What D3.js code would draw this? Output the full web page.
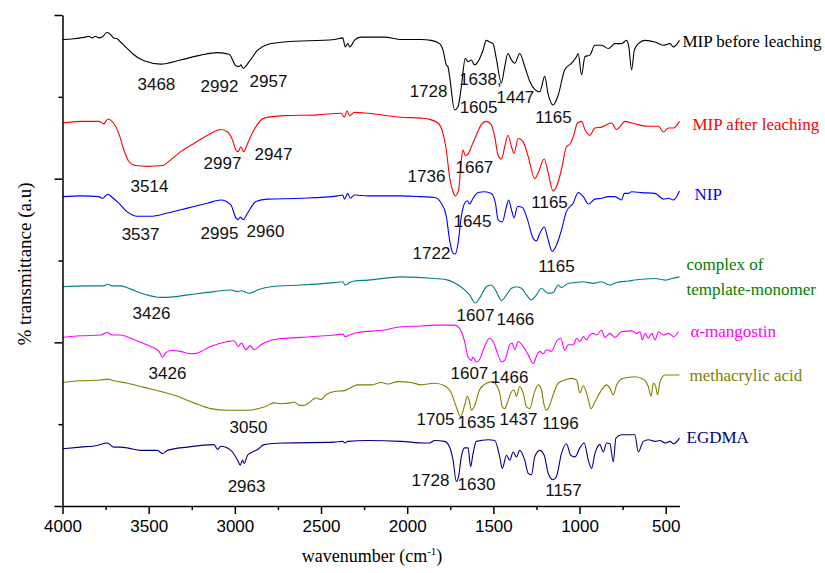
<!DOCTYPE html>
<html lang="en">
<head>
  <meta charset="UTF-8">
  <title>FTIR spectra</title>
  <script src="https://d3js.org/d3.v7.min.js"></script>
  <style>
    body { margin: 0; background: #fff; }
  </style>
</head>
<body>
  <script>
    // 1. Data: [wavenumber, offset transmittance]
    const mipBefore = [
      [3998,5.70],[3936,5.71],[3895,5.72],[3866,5.73],[3847,5.74],[3828,5.72],[3808,5.74],[3789,5.72],[3770,5.73],
      [3741,5.79],[3721,5.76],[3702,5.72],[3683,5.71],[3663,5.67],[3644,5.63],[3624,5.59],[3595,5.53],[3527,5.44],
      [3430,5.40],[3314,5.45],[3198,5.51],[3101,5.54],[3033,5.52],[2994,5.38],[2975,5.37],[2965,5.39],[2952,5.35],
      [2917,5.43],[2868,5.57],[2810,5.64],[2713,5.67],[2423,5.70],[2374,5.72],[2359,5.61],[2345,5.65],[2332,5.61],
      [2307,5.69],[2268,5.73],[2132,5.73],[2035,5.70],[1919,5.70],[1861,5.69],[1812,5.65],[1792,5.57],[1773,5.39],
      [1764,5.37],[1754,5.25],[1725,4.84],[1705,4.88],[1686,5.12],[1663,5.47],[1647,5.43],[1628,5.45],[1609,5.39],
      [1589,5.43],[1560,5.57],[1541,5.69],[1522,5.67],[1502,5.65],[1483,5.47],[1454,5.17],[1434,5.37],[1415,5.53],
      [1395,5.45],[1376,5.41],[1347,5.53],[1318,5.37],[1289,5.19],[1260,5.09],[1231,5.06],[1202,5.25],[1183,5.04],
      [1153,4.90],[1124,5.02],[1086,5.33],[1047,5.41],[1018,5.49],[1008,5.53],[988,5.27],[969,5.49],[940,5.51],
      [911,5.63],[872,5.63],[833,5.59],[795,5.65],[756,5.65],[727,5.69],[714,5.61],[698,5.33],[682,5.57],[659,5.65],
      [620,5.69],[562,5.67],[514,5.63],[475,5.65],[456,5.61],[420,5.69]
    ];
    const mipAfter = [
      [3998,4.68],[3895,4.70],[3789,4.70],[3760,4.67],[3737,4.73],[3673,4.55],[3644,4.35],[3615,4.21],[3576,4.16],
      [3508,4.15],[3420,4.16],[3372,4.23],[3314,4.33],[3237,4.43],[3159,4.53],[3081,4.60],[3042,4.57],[3013,4.47],
      [2994,4.35],[2981,4.33],[2965,4.39],[2949,4.33],[2926,4.43],[2888,4.60],[2830,4.74],[2713,4.77],[2519,4.78],
      [2384,4.80],[2364,4.75],[2349,4.83],[2335,4.77],[2306,4.81],[2228,4.80],[2035,4.75],[1919,4.74],[1880,4.73],
      [1821,4.68],[1792,4.55],[1773,4.35],[1754,4.02],[1734,3.84],[1721,3.79],[1702,3.86],[1686,4.23],[1676,4.35],
      [1663,4.28],[1647,4.30],[1628,4.39],[1599,4.53],[1570,4.66],[1541,4.70],[1512,4.66],[1492,4.51],[1473,4.29],
      [1453,4.24],[1434,4.39],[1415,4.53],[1395,4.39],[1380,4.31],[1356,4.49],[1327,4.45],[1298,4.27],[1260,4.00],
      [1240,4.07],[1205,4.24],[1182,4.07],[1153,3.85],[1134,3.90],[1105,4.11],[1076,4.39],[1056,4.42],[1037,4.51],
      [1012,4.68],[988,4.70],[969,4.60],[940,4.53],[911,4.62],[872,4.63],[843,4.66],[814,4.68],[785,4.60],
      [756,4.66],[737,4.70],[698,4.68],[659,4.66],[601,4.64],[542,4.64],[513,4.57],[484,4.62],[455,4.62],[420,4.70]
    ];
    const nip = [
      [3998,3.78],[3895,3.79],[3789,3.78],[3769,3.76],[3737,3.81],[3711,3.77],[3673,3.70],[3628,3.60],[3566,3.54],
      [3488,3.54],[3391,3.58],[3275,3.64],[3159,3.70],[3081,3.74],[3023,3.68],[2994,3.52],[2981,3.50],[2969,3.53],
      [2952,3.50],[2926,3.58],[2878,3.72],[2810,3.75],[2616,3.76],[2403,3.79],[2374,3.80],[2364,3.75],[2345,3.82],
      [2330,3.76],[2306,3.80],[2228,3.79],[2035,3.79],[1919,3.78],[1841,3.77],[1802,3.70],[1773,3.54],[1754,3.25],
      [1734,3.09],[1721,3.08],[1705,3.21],[1686,3.54],[1667,3.70],[1651,3.73],[1638,3.69],[1618,3.76],[1589,3.83],
      [1551,3.84],[1512,3.82],[1488,3.70],[1473,3.50],[1449,3.47],[1424,3.66],[1411,3.74],[1395,3.62],[1380,3.52],
      [1360,3.66],[1333,3.65],[1302,3.50],[1269,3.27],[1250,3.24],[1231,3.33],[1205,3.41],[1182,3.25],[1159,3.11],
      [1134,3.19],[1105,3.37],[1076,3.60],[1037,3.70],[1008,3.83],[978,3.78],[949,3.69],[911,3.75],[872,3.76],
      [833,3.78],[795,3.78],[756,3.74],[740,3.82],[717,3.82],[698,3.84],[640,3.83],[562,3.82],[513,3.75],
      [484,3.76],[455,3.74],[420,3.85]
    ];
    const complexTM = [
      [3998,2.68],[3856,2.69],[3760,2.69],[3740,2.71],[3711,2.69],[3663,2.69],[3605,2.65],[3527,2.59],[3430,2.55],
      [3391,2.55],[3275,2.58],[3120,2.62],[3023,2.64],[2984,2.62],[2965,2.63],[2917,2.60],[2868,2.64],[2791,2.68],
      [2616,2.70],[2423,2.73],[2374,2.74],[2360,2.70],[2335,2.73],[2306,2.75],[2228,2.76],[2035,2.80],[1841,2.78],
      [1763,2.76],[1705,2.70],[1667,2.64],[1638,2.58],[1605,2.48],[1580,2.54],[1541,2.68],[1512,2.70],[1483,2.62],
      [1453,2.51],[1424,2.58],[1395,2.66],[1366,2.68],[1337,2.66],[1308,2.58],[1279,2.52],[1250,2.58],[1221,2.66],
      [1182,2.60],[1153,2.61],[1124,2.70],[1105,2.67],[1066,2.72],[1027,2.73],[978,2.74],[920,2.72],[872,2.74],
      [824,2.70],[785,2.73],[717,2.75],[640,2.77],[562,2.78],[504,2.76],[465,2.78],[420,2.80]
    ];
    const mangostin = [
      [3998,2.06],[3895,2.08],[3779,2.09],[3740,2.12],[3711,2.09],[3663,2.09],[3605,2.05],[3547,2.00],[3488,1.95],
      [3440,1.89],[3420,1.82],[3401,1.87],[3372,1.90],[3314,1.89],[3256,1.86],[3217,1.87],[3140,1.95],[3042,2.01],
      [3004,2.02],[2981,1.95],[2961,1.99],[2936,1.91],[2911,1.96],[2888,1.91],[2849,1.97],[2810,2.01],[2752,2.04],
      [2616,2.06],[2423,2.09],[2374,2.10],[2360,2.07],[2335,2.09],[2287,2.12],[2132,2.15],[2035,2.19],[1919,2.20],
      [1841,2.21],[1725,2.21],[1696,2.17],[1667,2.01],[1647,1.82],[1628,1.78],[1618,1.82],[1599,1.76],[1580,1.79],
      [1551,1.95],[1522,2.05],[1502,2.01],[1473,1.85],[1453,1.76],[1434,1.78],[1405,1.97],[1391,1.99],[1376,1.91],
      [1356,2.01],[1327,1.95],[1298,1.85],[1269,1.74],[1250,1.83],[1231,1.89],[1211,1.86],[1192,1.91],[1163,1.89],
      [1134,2.01],[1109,2.05],[1086,1.90],[1066,1.97],[1037,1.97],[1017,2.05],[998,2.01],[978,2.07],[959,2.03],
      [940,2.09],[920,2.11],[901,2.09],[872,2.15],[853,2.06],[824,2.11],[795,2.06],[756,2.13],[698,2.14],[669,2.11],
      [649,2.13],[635,2.03],[620,2.11],[601,2.05],[581,2.11],[562,2.03],[542,2.13],[513,2.09],[484,2.11],[455,2.07],
      [426,2.13]
    ];
    const methacrylic = [
      [3998,1.51],[3895,1.53],[3779,1.54],[3740,1.55],[3702,1.53],[3624,1.50],[3527,1.45],[3430,1.40],[3333,1.34],
      [3237,1.26],[3140,1.19],[3042,1.17],[2926,1.17],[2830,1.21],[2771,1.26],[2733,1.25],[2674,1.26],[2655,1.27],
      [2626,1.23],[2597,1.23],[2548,1.30],[2529,1.32],[2500,1.30],[2471,1.36],[2423,1.40],[2364,1.41],[2287,1.48],
      [2209,1.48],[2151,1.51],[2112,1.49],[2054,1.52],[1977,1.51],[1919,1.48],[1841,1.50],[1783,1.47],[1744,1.38],
      [1715,1.21],[1690,1.09],[1667,1.23],[1651,1.34],[1638,1.27],[1628,1.17],[1612,1.21],[1580,1.42],[1541,1.50],
      [1502,1.52],[1483,1.48],[1463,1.38],[1448,1.21],[1434,1.19],[1419,1.26],[1399,1.38],[1380,1.42],[1366,1.34],
      [1347,1.46],[1327,1.38],[1308,1.21],[1289,1.19],[1263,1.38],[1240,1.48],[1221,1.42],[1205,1.23],[1192,1.17],
      [1173,1.23],[1153,1.36],[1124,1.50],[1086,1.54],[1046,1.56],[1017,1.54],[998,1.38],[978,1.47],[949,1.30],
      [934,1.19],[911,1.27],[872,1.42],[843,1.48],[824,1.44],[804,1.36],[785,1.48],[746,1.56],[679,1.58],[630,1.55],
      [601,1.46],[585,1.34],[572,1.50],[558,1.46],[547,1.36],[533,1.52],[504,1.60],[446,1.60],[420,1.60]
    ];
    const egdma = [
      [3998,0.70],[3895,0.72],[3798,0.74],[3740,0.77],[3702,0.72],[3663,0.72],[3624,0.71],[3547,0.68],[3449,0.68],
      [3420,0.64],[3391,0.68],[3275,0.72],[3120,0.75],[3101,0.69],[3081,0.73],[3023,0.68],[2984,0.56],[2969,0.50],
      [2955,0.56],[2946,0.52],[2926,0.62],[2907,0.65],[2868,0.69],[2830,0.75],[2713,0.77],[2423,0.78],[2374,0.79],
      [2360,0.77],[2345,0.79],[2228,0.80],[2035,0.79],[1899,0.77],[1870,0.77],[1841,0.80],[1783,0.79],[1754,0.72],
      [1734,0.56],[1715,0.30],[1702,0.36],[1686,0.60],[1667,0.71],[1647,0.71],[1632,0.48],[1618,0.64],[1599,0.79],
      [1531,0.81],[1492,0.80],[1463,0.60],[1448,0.46],[1424,0.62],[1405,0.56],[1385,0.66],[1366,0.60],[1347,0.68],
      [1318,0.56],[1298,0.40],[1279,0.38],[1260,0.60],[1231,0.68],[1205,0.62],[1182,0.40],[1153,0.32],[1134,0.36],
      [1105,0.64],[1076,0.76],[1051,0.62],[1027,0.60],[998,0.71],[973,0.77],[949,0.56],[930,0.46],[911,0.64],
      [882,0.75],[862,0.66],[843,0.77],[824,0.76],[804,0.54],[789,0.83],[756,0.87],[679,0.87],[659,0.66],[630,0.79],
      [601,0.81],[562,0.79],[533,0.80],[504,0.77],[475,0.79],[455,0.76],[420,0.83]
    ];

    const seriesNames = ["MIP before leaching", "MIP after leaching", "NIP",
                         "complex of|template-monomer", "α-mangostin", "methacrylic acid", "EGDMA"];
    const seriesData = [mipBefore, mipAfter, nip, complexTM, mangostin, methacrylic, egdma];
    const nameLevels = [5.61, 4.60, 3.74, 2.88, 2.07, 1.53, 0.77];

    // peak annotations: [text, wavenumber, level]
    const peakLabels = [
      ["3468",3455,5.16],["2992",3089,5.13],["2957",2805,5.19],["1728",1876,5.07],["1638,",1575,5.22],
      ["1605",1586,4.88],["1447",1372,5.00],["1165",1151,4.75],
      ["3514",3495,3.91],["2997",3072,4.19],["2947",2776,4.30],["1736",1888,4.04],["1667",1610,4.14],["1165",1174,3.72],
      ["3537",3547,3.32],["2995",3089,3.34],["2960",2822,3.36],["1645",1621,3.48],["1722",1859,3.09],["1165",1134,2.93],
      ["3426",3484,2.36],["1607",1604,2.33],["1466",1372,2.29],
      ["3426",3391,1.63],["1607",1639,1.63],["1466",1406,1.58],
      ["3050",2921,0.97],["1705",1836,1.06],["1635",1598,1.03],["1437",1354,1.06],["1196",1111,1.01],
      ["2963",2932,0.24],["1728",1865,0.32],["1630",1598,0.27],["1157",1093,0.20]
    ];

    const xMajor = [4000, 3500, 3000, 2500, 2000, 1500, 1000, 500];
    const xMinor = [3750, 3250, 2750, 2250, 1750, 1250, 750];
    const yMajor = [0, 2, 4, 6];
    const yMinor = [1, 3, 5];

    // 2. Styles
    const lineColors = ["#000000", "#ff0000", "#0000ff", "#008080", "#ff00ff", "#808000", "#000080"];
    const nameColors = ["#000000", "#ff0000", "#0000ff", "#008000", "#ff00ff", "#808000", "#000080"];
    const nameDx = [3, 13, 15, 7, 11, 10, 7];
    const sans = "'Liberation Sans', Arial, sans-serif";
    const serif = "'Liberation Serif', 'Times New Roman', serif";

    // 3. SVG Canvas
    const width = 825, height = 573;
    const svg = d3.select("body").append("svg")
                  .attr("width", width)
                  .attr("height", height)
                  .style("background", "#fff");

    // 4. Scales
    const x = d3.scaleLinear().domain([4000, 420]).range([62.5, 679.5]);
    const y = d3.scaleLinear().domain([0, 6]).range([506, 15]);

    // 5. Lines
    const line = d3.line()
                   .x(d => x(d[0]))
                   .y(d => y(d[1]))
                   .curve(d3.curveMonotoneX);

    svg.append("g").selectAll("path")
       .data(seriesData)
       .join("path")
       .attr("fill", "none")
       .attr("stroke", (d, i) => lineColors[i])
       .attr("stroke-width", 1.1)
       .attr("d", line);

    // 6. Axes
    function styleAxis(g) {
      g.selectAll("path, line").attr("stroke", "#000").attr("stroke-width", 1.5);
      g.selectAll("text").attr("font-family", sans).attr("font-size", 17).attr("fill", "#000");
    }

    svg.append("g")
       .attr("transform", `translate(0,${y(0)})`)
       .call(d3.axisBottom(x).tickValues(xMajor).tickSize(8).tickSizeOuter(0)
               .tickPadding(6).tickFormat(d3.format("d")))
       .call(styleAxis);
    svg.append("g")
       .attr("transform", `translate(0,${y(0)})`)
       .call(d3.axisBottom(x).tickValues(xMinor).tickSize(4).tickFormat(""))
       .call(g => g.select(".domain").remove())
       .call(styleAxis);

    svg.append("g")
       .attr("transform", `translate(${x(4000)},0)`)
       .call(d3.axisLeft(y).tickValues(yMajor).tickSize(8).tickSizeOuter(0).tickFormat(""))
       .call(styleAxis);
    svg.append("g")
       .attr("transform", `translate(${x(4000)},0)`)
       .call(d3.axisLeft(y).tickValues(yMinor).tickSize(4).tickFormat(""))
       .call(g => g.select(".domain").remove())
       .call(styleAxis);

    // 7. Peak labels
    svg.append("g").selectAll("text")
       .data(peakLabels)
       .join("text")
       .attr("x", d => x(d[1]))
       .attr("y", d => y(d[2]))
       .attr("dy", "0.36em")
       .attr("text-anchor", "middle")
       .attr("font-family", sans)
       .attr("font-size", 17)
       .attr("fill", "#111")
       .text(d => d[0]);

    // 8. Series names
    const names = svg.append("g").selectAll("text")
       .data(seriesNames)
       .join("text")
       .attr("x", (d, i) => x(420) + nameDx[i])
       .attr("y", (d, i) => y(nameLevels[i]))
       .attr("font-family", serif)
       .attr("font-size", 17)
       .attr("fill", (d, i) => nameColors[i]);
    names.each(function(d) {
      const parts = d.split("|");
      const t = d3.select(this);
      const xx = t.attr("x");
      parts.forEach((p, k) => {
        t.append("tspan").attr("x", xx).attr("dy", k === 0 ? 0 : 25).text(p);
      });
    });

    // 9. Axis titles
    const xt = svg.append("text")
       .attr("x", 372)
       .attr("y", 562)
       .attr("text-anchor", "middle")
       .attr("font-family", serif)
       .attr("font-size", 18);
    xt.append("tspan").text("wavenumber (cm");
    xt.append("tspan").attr("dy", -7).attr("font-size", 11).text("-1");
    xt.append("tspan").attr("dy", 7).text(")");

    svg.append("text")
       .attr("transform", "translate(31,264) rotate(-90)")
       .attr("text-anchor", "middle")
       .attr("font-family", serif)
       .attr("font-size", 19)
       .text("% transmittance (a.u)");
  </script>
</body>
</html>
